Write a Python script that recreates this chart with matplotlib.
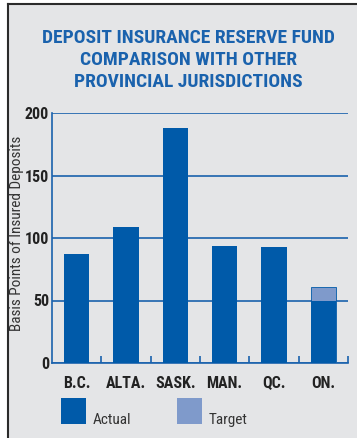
import matplotlib.pyplot as plt
import numpy as np
from matplotlib.patches import Rectangle
from matplotlib.lines import Line2D

provinces = ['B.C.', 'ALTA.', 'SASK.', 'MAN.', 'QC.', 'ON.']
actual = [87, 109, 188, 94, 92.5, 50]
target = [0, 0, 0, 0, 0, 61]
yticks = [0, 50, 100, 150, 200]

dark_blue = '#005aa9'
light_blue = '#7f9acb'
line_blue = '#1a62ad'
bg = '#e4e5e7'
narrow = ['Roboto Condensed', 'Barlow Semi Condensed', 'DejaVu Sans']

W, H = 357, 438
fig = plt.figure(figsize=(W / 100, H / 100), dpi=100)
fig.patch.set_facecolor('white')

# grey panel with a dark frame on the top and left
fig.add_artist(Rectangle((8 / W, 0), 1, 1 - 4 / H, transform=fig.transFigure,
                         facecolor=bg, edgecolor='none', zorder=0))
fig.add_artist(Line2D([8 / W, 8 / W], [0, 1 - 4 / H], transform=fig.transFigure,
                      color='#2b2b2b', lw=1.5))
fig.add_artist(Line2D([8 / W, 1], [1 - 4 / H, 1 - 4 / H], transform=fig.transFigure,
                      color='#2b2b2b', lw=1.5))

fig.text(188 / W, 1 - 60 / H,
         'DEPOSIT INSURANCE RESERVE FUND\nCOMPARISON WITH OTHER\nPROVINCIAL JURISDICTIONS',
         ha='center', va='center', fontsize=14, fontweight='bold', color=line_blue,
         family=narrow, linespacing=1.28)

ax = fig.add_axes([52 / W, 1 - 363 / H, 296 / W, 250 / H])
ax.set_facecolor('none')

x = np.arange(len(provinces))
width = 0.52
ax.bar(x, target, width, color=light_blue, edgecolor=dark_blue, linewidth=0.6, zorder=2)
ax.bar(x, actual, width, color=dark_blue, zorder=3)

ax.set_xlim(-0.5, 5.5)
ax.set_ylim(0, 200)
ax.set_yticks(yticks)
ax.grid(axis='y', color=line_blue, lw=1.2, zorder=1)
ax.set_axisbelow(True)

for s in ['top', 'right']:
    ax.spines[s].set_visible(False)
for s in ['left', 'bottom']:
    ax.spines[s].set_color(line_blue)
    ax.spines[s].set_linewidth(1.2)

ax.set_xticks(x, provinces)
ax.set_xticks(np.arange(0.5, 6, 1), minor=True)
ax.tick_params(axis='x', which='major', length=0, pad=9)
ax.tick_params(axis='x', which='minor', direction='in', length=5, color=line_blue, width=1.2)
ax.tick_params(axis='y', length=0, pad=2)
for lab in ax.get_xticklabels() + ax.get_yticklabels():
    lab.set_family(narrow)
    lab.set_fontweight('bold')
    lab.set_fontsize(11.5)
    lab.set_color('#222222')

ax.set_ylabel('Basis Points of Insured Deposits', family=narrow, fontsize=11,
              color='#333333', va='center')
ax.yaxis.set_label_coords(-35 / 296, 0.52)

# legend squares with labels sitting on their bottom edge
for x0, col, name in [(61, dark_blue, 'Actual'), (177, light_blue, 'Target')]:
    fig.add_artist(Rectangle((x0 / W, 1 - 424 / H), 25 / W, 26 / H,
                             transform=fig.transFigure, facecolor=col, edgecolor='none'))
    fig.text((x0 + 32) / W, 1 - 424 / H, name, ha='left', va='baseline',
             fontsize=11, family=narrow, color='#333333')

plt.savefig('out.png', dpi=100, facecolor=fig.get_facecolor())
